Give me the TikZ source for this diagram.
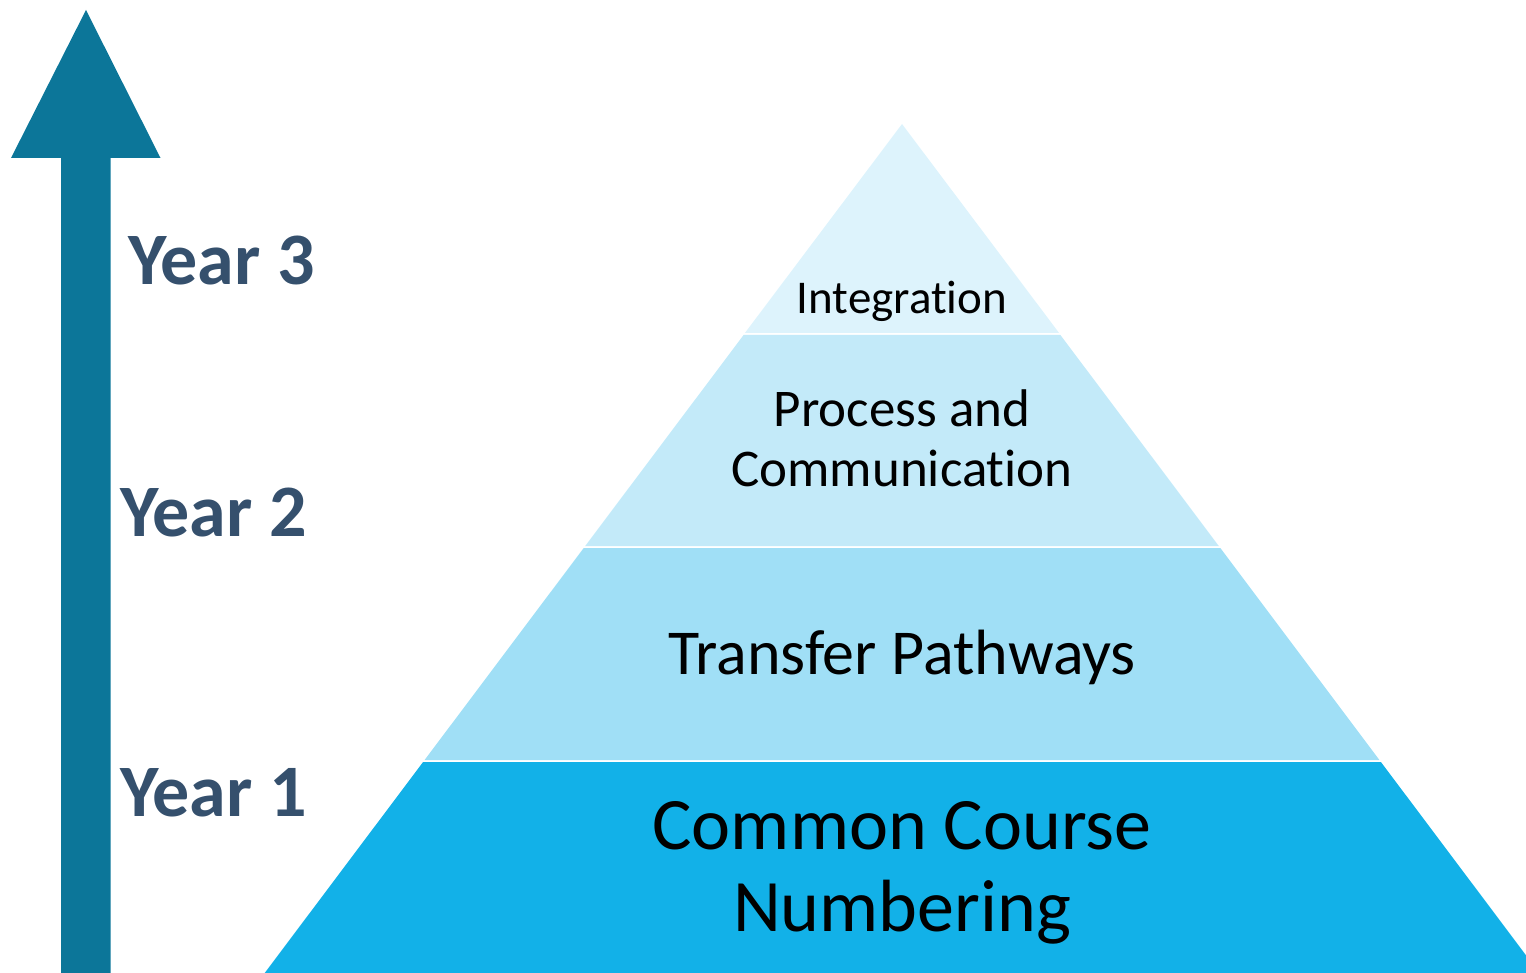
\documentclass[tikz,border=0pt]{standalone}
\usepackage{fontspec}
\setmainfont[Ligatures={NoCommon}]{Carlito}
\definecolor{arrowc}{HTML}{0C7699}
\definecolor{yearc}{HTML}{35506D}
\definecolor{lay1}{HTML}{DDF3FC}
\definecolor{lay2}{HTML}{C3EAF9}
\definecolor{lay3}{HTML}{A0DFF6}
\definecolor{lay4}{HTML}{12B1E8}
\begin{document}
\begin{tikzpicture}[x=1pt,y=-1pt,
  yearlabel/.style={anchor=base west,inner sep=0pt,text=yearc,font=\fontsize{74}{80}\selectfont\bfseries},
  laytext/.style={anchor=base,inner sep=0pt,text=black}]
\useasboundingbox (0,0) rectangle (1526,973);
\clip (0,0) rectangle (1526,973);
% arrow
\fill[arrowc] (86,10) -- (160.5,158) -- (110.5,158) -- (110.5,973) -- (61,973) -- (61,158) -- (11,158) -- cycle;
% pyramid layers
\fill[lay1] (902,124) -- (1059.1,333) -- (744.9,333) -- cycle;
\fill[lay2] (743.6,335) -- (1060.4,335) -- (1218.8,546) -- (585.2,546) -- cycle;
\fill[lay3] (583.7,548) -- (1220.3,548) -- (1379.4,760) -- (424.6,760) -- cycle;
\fill[lay4] (423.1,762) -- (1380.9,762) -- (1539.3,973) -- (264.7,973) -- cycle;
% texts
\node[laytext,font=\fontsize{47}{52}\selectfont] (integ) at (902,314) {Integration};
\node[laytext,font=\fontsize{53}{58}\selectfont] (proc1) at (902,427) {Process and};
\node[laytext,font=\fontsize{53}{58}\selectfont] (proc2) at (902,486) {Communication};
\node[laytext,font=\fontsize{64}{70}\selectfont] (trans) at (902,674) {Transfer Pathways};
\node[laytext,font=\fontsize{74}{80}\selectfont] (ccn1) at (902,849) {Common Course};
\node[laytext,font=\fontsize{74}{80}\selectfont] (ccn2) at (902,931) {Numbering};
\node[yearlabel] (y3) at (128,285) {Year 3};
\node[yearlabel] (y2) at (120,536) {Year 2};
\node[yearlabel] (y1) at (120,816) {Year 1};
\end{tikzpicture}
\end{document}
